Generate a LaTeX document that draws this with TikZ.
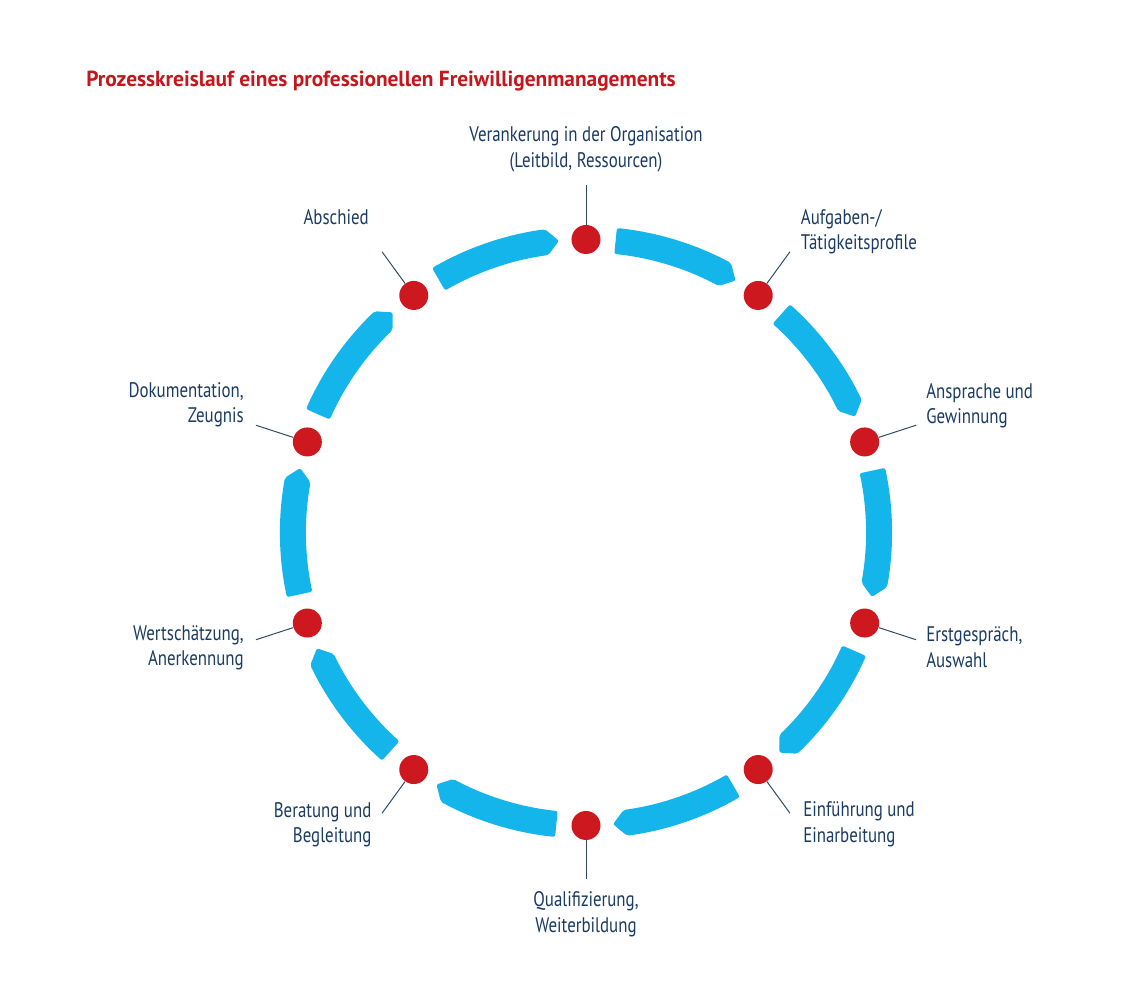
\documentclass[tikz,border=0pt]{standalone}
\usepackage{fontspec}
\setmainfont[FakeStretch=0.8]{PT Sans}
\newfontfamily\titlefont[FakeStretch=0.98]{PT Sans}
\definecolor{kreisblau}{HTML}{13B5EA}
\definecolor{punktrot}{HTML}{CC181E}
\definecolor{titelrot}{HTML}{C4161C}
\definecolor{textblau}{HTML}{1A3B63}
\definecolor{linie}{HTML}{2F4A66}
\tikzset{
	seg/.style={fill=kreisblau, rounded corners=1.5pt},
	dot/.style={circle, fill=punktrot, inner sep=0, minimum size=0.725cm},
	leader/.style={draw=linie, line width=0.7pt},
	lbl/.style={text=textblau, inner sep=0, font=\fontsize{15}{18.1}\selectfont}
}
\begin{document}
\begin{tikzpicture}[x=0.025cm, y=0.025cm]
	\useasboundingbox (-586, -471.5) rectangle (554, 532.5);
	% Titel
	\node[anchor=base west, inner sep=0, text=titelrot, font=\titlefont\bfseries\fontsize{15.5}{18}\selectfont] (titel) at (-500, 445.5) {Prozesskreislauf eines professionellen Freiwilligenmanagements};
	% Kreissegmente
	\foreach \i in {0,...,9}
	{
		\pgfmathsetmacro{\a}{90-36*\i}
		\fill[seg] (\a-5.8:306) arc[start angle=\a-5.8, end angle=\a-28.3, radius=306]
			-- (\a-30.7:293) -- (\a-28.3:280)
			arc[start angle=\a-28.3, end angle=\a-5.8, radius=280] -- cycle;
	}
	% Punkte und Linien
	\foreach \i in {0,...,9}
	{
		\pgfmathsetmacro{\a}{90-36*\i}
		\node[dot] (d\i) at (\a:293) {};
		\coordinate (l\i) at (\a:347);
		\draw[leader] (d\i) -- (l\i);
	}
	% Beschriftungen (Grundlinie der letzten Zeile)
	\node[lbl, align=center, anchor=base] (verankerung) at (0, 365.3) {Verankerung in der Organisation\\(Leitbild, Ressourcen)};
	\node[lbl, align=left, anchor=base west] (aufgaben) at (214.7, 283) {Aufgaben-/\\Tätigkeitsprofile};
	\node[lbl, align=left, anchor=base west] (ansprache) at (340, 108.7) {Ansprache und\\Gewinnung};
	\node[lbl, align=left, anchor=base west] (erstgespraech) at (340, -134.7) {Erstgespräch,\\Auswahl};
	\node[lbl, align=left, anchor=base west] (einfuehrung) at (217, -309.7) {Einführung und\\Einarbeitung};
	\node[lbl, align=center, anchor=base] (qualifizierung) at (0, -399.7) {Qualifizierung,\\Weiterbildung};
	\node[lbl, align=right, anchor=base east] (beratung) at (-214.3, -310.3) {Beratung und\\Begleitung};
	\node[lbl, align=right, anchor=base east] (wertschaetzung) at (-342, -133) {Wertschätzung,\\Anerkennung};
	\node[lbl, align=right, anchor=base east] (dokumentation) at (-342, 109.7) {Dokumentation,\\Zeugnis};
	\node[lbl, align=right, anchor=base east] (abschied) at (-217, 308.2) {Abschied};
\end{tikzpicture}
\end{document}
